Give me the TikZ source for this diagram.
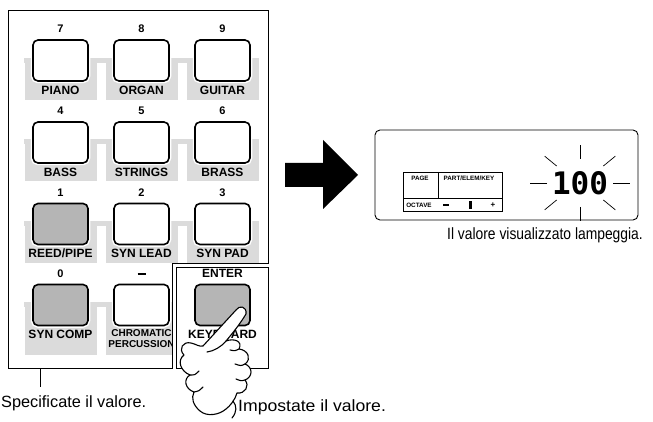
\documentclass[tikz,border=0pt]{standalone}
\usepackage{fontspec}
\setmainfont{Liberation Sans}
\setmonofont{DejaVu Sans Mono}
\usetikzlibrary{positioning}

\definecolor{bandgray}{gray}{0.86}
\definecolor{keygray}{gray}{0.71}

\begin{document}
\begin{tikzpicture}[x=1pt, y=-1pt,
    key/.style={rectangle, draw, rounded corners=5pt, line width=1.6pt, fill=white,
      minimum width=55pt, minimum height=41pt, inner sep=0pt,
      preaction={draw=white, line width=4.5pt}},
    keydown/.style={key, fill=keygray},
    keynum/.style={font=\bfseries\fontsize{11}{11}\selectfont, inner sep=0pt, text height=7.9pt, text depth=0pt},
    keylab/.style={font=\bfseries\fontsize{12}{12}\selectfont, inner sep=0pt, text height=8.6pt, text depth=0pt},
    lcd/.style={font=\bfseries\fontsize{6.3}{7}\selectfont, inner sep=0pt},
    caption/.style={font=\fontsize{16.3}{18}\selectfont, inner sep=0pt},
    hand/.style={draw, fill=white, line width=1.1pt, line join=round},
    ray/.style={line width=0.7pt}
  ]
  \useasboundingbox (0,0) rectangle (653,422);

  % grey label strips behind the keys
  \foreach \y in {58,139,221} {
    \fill[bandgray] (24,\y) rectangle (258,\y+5);
    \foreach \cx in {60.5,141.5,222.5}
      \fill[bandgray] (\cx-36,\y) rectangle (\cx+36,\y+42);
  }
  \fill[bandgray] (24,302) rectangle (172,307);
  \fill[bandgray] (24.5,302) rectangle (96.5,355);
  \fill[bandgray] (105.5,302) rectangle (172,355);

  % number keys
  \foreach \k/\cx/\cy/\sty/\name in {7/60.5/60.5/key/PIANO, 8/141.5/60.5/key/ORGAN, 9/222.5/60.5/key/GUITAR,
      4/60.5/142.5/key/BASS, 5/141.5/142.5/key/STRINGS, 6/222.5/142.5/key/BRASS,
      1/60.5/224/keydown/{REED/PIPE}, 2/141.5/224/key/SYN LEAD, 3/222.5/224/key/SYN PAD,
      0/60.5/305/keydown/SYN COMP}
  {
    \node[\sty] (k\k) at (\cx,\cy) {};
    \node[keynum, above=6pt of k\k] (n\k) {\k};
    \node[keylab, below=3.5pt of k\k] (l\k) {\name};
  }
  \node[key] (kminus) at (141.5,305) {};
  \node[keynum, above=6pt of kminus] (nminus) {\rule[2.6pt]{8pt}{2.3pt}};
  \node[font=\bfseries\fontsize{10}{11.5}\selectfont, inner sep=0pt, align=center,
    below=3pt of kminus] (lminus) {CHROMATIC\\PERCUSSION};

  % panel outline with the ENTER block
  \fill[white] (172,263) rectangle (268,369);
  \draw[line width=0.8pt] (8,10) -- (268,10) -- (268,263) -- (172,263) -- (172,368) -- (8,368) -- cycle;
  \draw[line width=0.8pt, fill=white] (176,267) rectangle (268,368);
  \node[keydown] (kenter) at (222.5,305) {};
  \node[keylab, above=6pt of kenter] (nenter) {ENTER};
  \node[keylab, below=3.5pt of kenter] (lenter) {KEYBOARD};

  % pressing hand
  \draw[hand] (236,310)
    .. controls (239,305) and (247,306) .. (246,314)
    .. controls (240,324) and (232,334) .. (226,341)
    .. controls (234,338) and (243,341) .. (239,349)
    .. controls (248,350) and (252,359) .. (245,364)
    .. controls (253,367) and (253,377) .. (245,380)
    .. controls (250,386) and (245,394) .. (237,393)
    .. controls (235,400) and (230,406) .. (226,409)
    .. controls (219,415) and (207,417) .. (200,411)
    .. controls (193,405) and (191,398) .. (194,392)
    .. controls (185,389) and (183,379) .. (190,375)
    .. controls (180,371) and (177,360) .. (184,355)
    .. controls (178,349) and (183,341) .. (191,343)
    .. controls (196,344) and (199,347) .. (203,346)
    -- cycle;
  \draw[line width=1.1pt, line cap=round] (226,341) .. controls (221,347) and (214,351) .. (207,352);
  \draw[line width=1.1pt, line cap=round] (239,349) .. controls (235,351) .. (230,350);
  \draw[line width=1.1pt, line cap=round] (245,364) .. controls (241,366) .. (235,364);
  \draw[line width=1.1pt, line cap=round] (245,380) .. controls (241,381) .. (236,379);
  \draw[line width=1.1pt, line cap=round] (194,392) .. controls (199,391) .. (203,387);
  \draw[line width=1.1pt, line cap=round] (190,375) .. controls (195,375) .. (199,371);
  \draw[line width=1.1pt, line cap=round] (233,401) .. controls (237,406) and (237,412) .. (232,418);

  % captions under the panel
  \coordinate (lead) at (40,368);
  \coordinate (leadend) at (40,387);
  \draw[line width=0.6pt] (lead) -- (leadend);
  \node[caption, anchor=west] (cap1) at (1,403) {Specificate il valore.};
  \node[caption, anchor=west] (cap2) at (238,407) {\addfontfeature{FakeStretch=1.08}Impostate il valore.};

  % big arrow
  \fill (285,163) -- (323,163) -- (323,140) -- (358,175) -- (323,209) -- (323,187) -- (285,187) -- cycle;

  % display
  \draw[line width=0.9pt, rounded corners=5pt] (375,130) rectangle (638,220);
  \draw[line width=0.6pt] (403,172) rectangle (502,211);
  \draw[line width=0.6pt] (438,172) -- (438,199);
  \draw[line width=1pt] (403,199) -- (502,199);
  \node[lcd] (page) at (420,178) {PAGE};
  \node[lcd] (pek) at (469,178) {PART/ELEM/KEY};
  \node[lcd] (oct) at (419,205.5) {OCTAVE};
  \fill (443,204) rectangle (449,206.5);
  \fill (469,201) rectangle (472,209);
  \node[lcd, font=\bfseries\fontsize{8}{8}\selectfont] (plus) at (493,205) {+};
  \node[inner sep=0pt, font=\ttfamily\bfseries\fontsize{31}{31}\selectfont] (val) at (580,183) {100};
  \foreach \a in {0,45,...,315}
    \draw[ray, shift={(val.center)}] (\a:33 and 24) -- (\a:50 and 38);
  \node[caption] (cap3) at (545,235) {\addfontfeature{FakeStretch=0.85}Il valore visualizzato lampeggia.};
\end{tikzpicture}
\end{document}
